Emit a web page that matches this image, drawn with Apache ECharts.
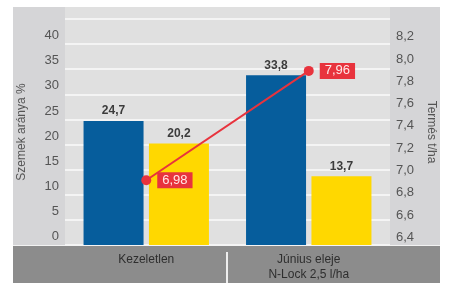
<!DOCTYPE html>
<html>
<head>
<meta charset="utf-8">
<script src="https://cdn.jsdelivr.net/npm/echarts@6/dist/echarts.min.js"></script>
<style>
  html, body { margin: 0; padding: 0; background: #fff; }
  #chart { width: 452px; height: 283px; }
</style>
</head>
<body>
<div id="chart"></div>
<script>
const categories = ['Kezeletlen', 'Június eleje\nN-Lock 2,5 l/ha'];
const blueValues = [24.7, 33.8];
const yellowValues = [20.2, 13.7];
const yieldValues = [6.98, 7.96];

const comma = (v, d) => v.toFixed(d).replace('.', ',');

const chart = echarts.init(document.getElementById('chart'), null, { renderer: 'canvas' });

chart.setOption({
  animation: false,
  backgroundColor: '#fff',
  textStyle: { fontFamily: 'Liberation Sans, Arial, sans-serif' },
  graphic: [
    // outer panel
    { type: 'rect', z: -10, shape: { x: 13, y: 7, width: 427, height: 239 }, style: { fill: '#d5d5d7' } },
    // plot column
    { type: 'rect', z: -9, shape: { x: 65, y: 7, width: 325, height: 239 }, style: { fill: '#e0e0e0' } },
    // bottom band
    { type: 'rect', z: -8, shape: { x: 13, y: 246, width: 427, height: 37 }, style: { fill: '#8c8c8c' } },
    { type: 'line', z: -7, shape: { x1: 13, y1: 245.5, x2: 440, y2: 245.5 }, style: { stroke: '#f2f2f2', lineWidth: 1 } },
    { type: 'line', z: -7, shape: { x1: 227, y1: 252, x2: 227, y2: 283 }, style: { stroke: '#eeeeee', lineWidth: 2 } }
  ],
  grid: { left: 65, right: 62, top: 19, bottom: 38, containLabel: false },
  xAxis: {
    type: 'category',
    data: categories,
    axisLine: { show: false },
    axisTick: { show: false },
    axisLabel: { color: '#2e2e2e', fontSize: 12, margin: 7, lineHeight: 15 }
  },
  yAxis: [
    {
      type: 'value',
      min: 0, max: 45, interval: 5,
      name: 'Szemek aránya %',
      nameLocation: 'middle',
      nameRotate: 90,
      nameGap: 37,
      nameTextStyle: { color: '#555', fontSize: 12 },
      axisLine: { show: false },
      axisTick: { show: false },
      axisLabel: {
        color: '#555', fontSize: 13, margin: 6, verticalAlign: 'bottom', padding: [0, 0, 2, 0],
        formatter: v => (v <= 40 ? String(v) : '')
      },
      splitLine: { lineStyle: { color: '#f4f4f4', width: 2 } }
    },
    {
      type: 'value',
      min: 6.4, max: 8.425, interval: 0.2,
      name: 'Termés t/ha',
      nameLocation: 'middle',
      nameRotate: -90,
      nameGap: 33,
      nameTextStyle: { color: '#555', fontSize: 12 },
      axisLine: { show: false },
      axisTick: { show: false },
      splitLine: { show: false },
      axisLabel: {
        color: '#555', fontSize: 13, margin: 6, verticalAlign: 'bottom', padding: [0, 0, 1, 0],
        showMaxLabel: false,
        formatter: v => (v <= 8.21 ? comma(v, 1) : '')
      }
    }
  ],
  series: [
    {
      type: 'bar',
      data: blueValues,
      barWidth: 60,
      barGap: '9%',
      itemStyle: { color: '#065d9c' },
      label: { show: true, position: 'top', distance: 4, color: '#3c3c3c', fontSize: 12, fontWeight: 'bold', formatter: p => comma(p.value, 1) }
    },
    {
      type: 'bar',
      data: yellowValues,
      barWidth: 60,
      itemStyle: { color: '#ffd800' },
      label: { show: true, position: 'top', distance: 4, color: '#3c3c3c', fontSize: 12, fontWeight: 'bold', formatter: p => comma(p.value, 1) }
    },
    {
      type: 'line',
      yAxisIndex: 1,
      data: yieldValues,
      symbol: 'circle',
      symbolSize: 10,
      lineStyle: { color: '#e8333d', width: 2 },
      itemStyle: { color: '#e8333d' },
      z: 5,
      label: {
        show: true, position: 'right', distance: 6,
        backgroundColor: '#e8333d', color: '#ffe8e8', fontSize: 13,
        padding: [2, 5, 1, 5],
        formatter: p => comma(p.value, 2)
      }
    }
  ]
});
</script>
</body>
</html>
